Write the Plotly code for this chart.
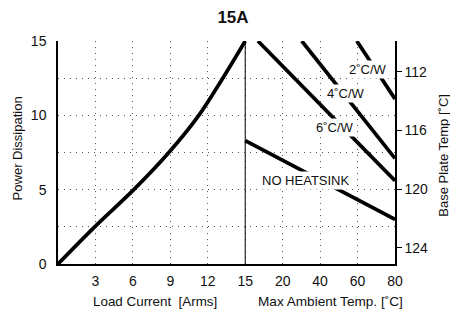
import numpy as np
import plotly.graph_objects as go

# ---- data ----
load_current = [0, 2.94, 6.07, 8.88, 11.28, 13.2, 15]   # A rms
power_diss = [0, 2.5, 5, 7.5, 10, 12.5, 15]            # W

left_ticks = [3, 6, 9, 12, 15]
right_ticks = [20, 40, 60, 80]

heatsink_names = ["NO HEATSINK", "6˚C/W", "4˚C/W", "2˚C/W"]
heatsink_temp = [[15, 80], [16.7, 80], [30.2, 80], [59.6, 80]]   # ambient °C
heatsink_power = [[8.3, 3.0], [15, 5.6], [15, 7.1], [15, 11.1]]  # W
label_temp = [32.4, 48.0, 53.8, 65.6]
label_power = [5.6, 9.15, 11.45, 13.06]

y_ticks = [0, 5, 10, 15]
y2_ticks = [112, 116, 120, 124]

# ---- scale mapping (two-part x axis) ----
n_left = len(left_ticks)
temp_knots = [left_ticks[-1]] + right_ticks
temp_pos = list(range(n_left, n_left + len(temp_knots)))
cur_step = left_ticks[0]


def cur_to_pos(i):
    return np.asarray(i, dtype=float) / cur_step


def temp_to_pos(t):
    return np.interp(t, temp_knots, temp_pos)


tick_pos = list(range(1, n_left + len(right_ticks) + 1))
tick_text = [str(v) for v in left_ticks + right_ticks]
x_max = tick_pos[-1]

FONT = "Liberation Sans, Arial, sans-serif"
TXT = "#111111"

L, R, T, B = 57.7, 55, 41, 49.7
PW, PH = 450 - L - R, 314 - T - B

fig = go.Figure()
fig.add_trace(go.Scatter(x=cur_to_pos(load_current), y=power_diss, mode="lines",
                         line=dict(color="black", width=3.7, shape="spline", smoothing=1),
                         showlegend=False, hoverinfo="skip"))
for name, t, p in zip(heatsink_names, heatsink_temp, heatsink_power):
    fig.add_trace(go.Scatter(x=temp_to_pos(t), y=p, mode="lines", name=name,
                             line=dict(color="black", width=3.7),
                             showlegend=False, hoverinfo="skip"))
# invisible trace to anchor the right axis
fig.add_trace(go.Scatter(x=[0], y=[y2_ticks[0]], yaxis="y2", mode="markers",
                         marker=dict(opacity=0), showlegend=False, hoverinfo="skip"))

fig.add_vline(x=n_left, line=dict(color="black", width=1))

for name, t, p in zip(heatsink_names, label_temp, label_power):
    fig.add_annotation(x=float(temp_to_pos(t)), y=p, text=name, showarrow=False,
                       bgcolor="white", font=dict(family=FONT, size=13, color=TXT),
                       borderpad=1, xanchor="center", yanchor="middle")

# axis titles as annotations
ty = -(301.7 - (314 - B)) / PH
fig.add_annotation(xref="paper", yref="paper", x=(155 - L) / PW, y=ty,
                   text="Load Current  [Arms]", showarrow=False,
                   font=dict(family=FONT, size=13.4, color=TXT),
                   xanchor="center", yanchor="middle")
fig.add_annotation(xref="paper", yref="paper", x=(330.7 - L) / PW, y=ty,
                   text="Max Ambient Temp. [˚C]", showarrow=False,
                   font=dict(family=FONT, size=13.6, color=TXT),
                   xanchor="center", yanchor="middle")
fig.add_annotation(xref="paper", yref="paper", x=(17 - L) / PW, y=0.52,
                   text="Power Dissipation", showarrow=False, textangle=-90,
                   font=dict(family=FONT, size=13, color=TXT),
                   xanchor="center", yanchor="middle")
fig.add_annotation(xref="paper", yref="paper", x=(444 - L) / PW, y=0.49,
                   text="Base Plate Temp [˚C]", showarrow=False, textangle=-90,
                   font=dict(family=FONT, size=13, color=TXT),
                   xanchor="center", yanchor="middle")

grid_minor = [v / 2 for v in range(0, 2 * y_ticks[-1] + 1, 5)]

fig.update_layout(
    width=450, height=314,
    margin=dict(l=L, r=R, t=T, b=B, autoexpand=False),
    paper_bgcolor="white", plot_bgcolor="white",
    title=dict(text="<b>15A</b>", x=233 / 450, xanchor="center", y=1 - 17 / 314, yanchor="middle",
               font=dict(family=FONT, size=17, color=TXT)),
    font=dict(family=FONT, color=TXT),
    xaxis=dict(range=[0, x_max], tickvals=tick_pos, ticktext=tick_text,
               showgrid=True, gridcolor="#555555", griddash="1px,5px", gridwidth=1,
               showline=True, linecolor="black", linewidth=1.5, ticks="",
               tickfont=dict(size=14), zeroline=False, ticklabelstandoff=3),
    yaxis=dict(range=[0, y_ticks[-1]], tickvals=grid_minor,
               ticktext=[f"{v:g}" if v in y_ticks else "" for v in grid_minor],
               showgrid=True, gridcolor="#555555", griddash="1px,5px", gridwidth=1,
               showline=True, linecolor="black", linewidth=1.5, ticks="",
               tickfont=dict(size=14), zeroline=False, ticklabelstandoff=7),
    yaxis2=dict(overlaying="y", side="right", range=[125.1, 109.9],
                tickvals=y2_ticks, showgrid=False, showline=True, linecolor="black",
                linewidth=1.5, ticks="outside", ticklen=5, tickcolor="black",
                tickfont=dict(size=14), zeroline=False),
)

fig.write_html("out.html", config={"displayModeBar": False},
               post_script="document.body.style.margin='0';")
